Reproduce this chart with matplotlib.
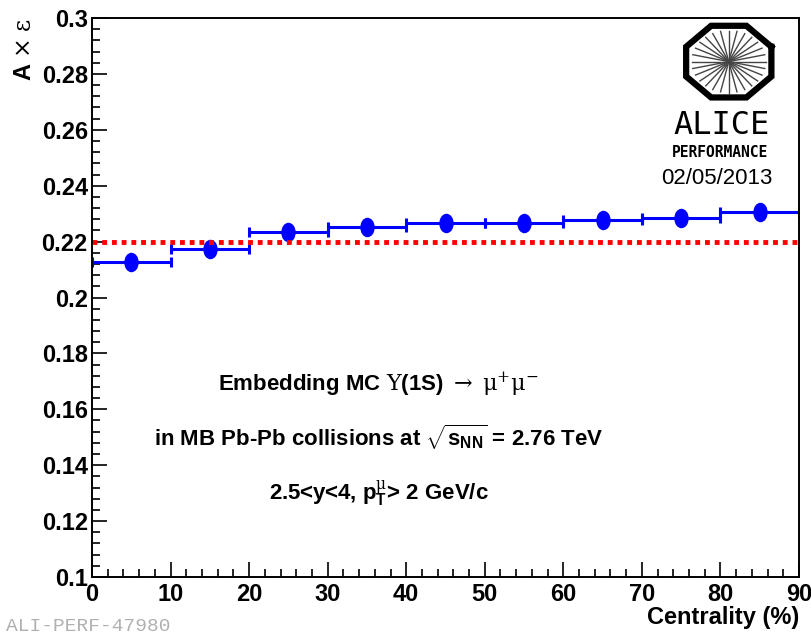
"""Upsilon(1S) acceptance x efficiency vs centrality (ALICE performance style)."""
import numpy as np
import matplotlib
matplotlib.use("Agg")
import matplotlib.pyplot as plt
from matplotlib.path import Path
from matplotlib.transforms import Affine2D
from matplotlib.ticker import MultipleLocator, FuncFormatter

# data
cent_centers = [5, 15, 25, 35, 45, 55, 65, 75, 85]
cent_halfwidth = [5, 5, 5, 5, 5, 5, 5, 5, 5]
acc_eff = [0.2128, 0.2174, 0.2236, 0.2253, 0.2268, 0.2266, 0.2276, 0.2286, 0.2307]
acc_eff_mb = 0.2197

plt.rcParams["font.family"] = ["Liberation Sans", "DejaVu Sans"]
plt.rcParams["mathtext.fontset"] = "custom"
plt.rcParams["mathtext.rm"] = "DejaVu Serif"
plt.rcParams["mathtext.it"] = "DejaVu Serif"
plt.rcParams["mathtext.bf"] = "Liberation Sans:bold"

fig = plt.figure(figsize=(8.12, 6.32), dpi=100)
ax = fig.add_axes([0.1133, 0.087, 0.8707, 0.8845])

# tall ellipse marker like the ROOT canvas
ellipse = Path.unit_circle().transformed(Affine2D().scale(0.72, 1.0))
ax.errorbar(cent_centers, acc_eff, xerr=cent_halfwidth, fmt="none", ecolor="blue",
            elinewidth=2.2, capsize=3.5, capthick=2.2)
ax.plot(cent_centers, acc_eff, ls="none", marker=ellipse, ms=13, color="blue")
ax.axhline(acc_eff_mb, color="red", ls=(0, (1, 1)), lw=3.5)

ax.set_xlim(0, 90)
ax.set_ylim(0.1, 0.3)
ax.xaxis.set_major_locator(MultipleLocator(10))
ax.xaxis.set_minor_locator(MultipleLocator(2))
ax.yaxis.set_major_locator(MultipleLocator(0.02))
ax.yaxis.set_minor_locator(MultipleLocator(0.004))
ax.tick_params(which="both", direction="in", top=False, right=False, width=1.2)
ax.tick_params(which="major", length=11, labelsize=17)
ax.tick_params(which="minor", length=5.5)
ax.tick_params(axis="x", which="major", pad=4)
ax.tick_params(axis="y", which="major", pad=3)
ax.yaxis.set_major_formatter(FuncFormatter(lambda v, p: f"{v:.2f}".rstrip("0")))
for lab in ax.get_xticklabels() + ax.get_yticklabels():
    lab.set_fontweight("bold")
for sp in ax.spines.values():
    sp.set_linewidth(1.4)

ax.set_xlabel("Centrality (%)", fontsize=17, fontweight="bold", loc="right", labelpad=0)
ax.set_ylabel(r"A $\times$ $\varepsilon$", fontsize=17, fontweight="bold", loc="top", labelpad=4)

ax.text(36.5, 0.1688, r"Embedding MC $\mathrm{\Upsilon}$(1S) $\rightarrow$ $\mathrm{\mu^{+}\mu^{-}}$",
        fontsize=16, fontweight="bold", ha="center", va="center")
ax.text(36.5, 0.1499, r"in MB Pb-Pb collisions at $\sqrt{\mathbf{s}_{\mathbf{NN}}}$ = 2.76 TeV",
        fontsize=16, fontweight="bold", ha="center", va="center")
ax.text(36.5, 0.1297, r"2.5<y<4, p$_{\mathbf{T}}^{\mathrm{\mu}}$> 2 GeV/c",
        fontsize=16, fontweight="bold", ha="center", va="center")

# ALICE logo
lax = fig.add_axes([0.835, 0.835, 0.125, 0.135])
lax.set_xlim(-1.1, 1.1)
lax.set_ylim(-1.1, 1.1)
lax.axis("off")
ang = np.deg2rad(22.5 + 45 * np.arange(9))
lax.plot(np.cos(ang), np.sin(ang), color="black", lw=4.5, solid_joinstyle="miter")
for a in np.linspace(0, np.pi, 14, endpoint=False):
    lax.plot([-0.8 * np.cos(a), 0.8 * np.cos(a)], [-0.8 * np.sin(a), 0.8 * np.sin(a)],
             color="#444444", lw=1.0)
fig.text(0.888, 0.801, "ALICE", fontsize=23, family="DejaVu Sans Mono", ha="center", va="center")
fig.text(0.887, 0.759, "PERFORMANCE", fontsize=10.5, family="DejaVu Sans Mono", fontweight="bold",
         ha="center", va="center")
fig.text(0.883, 0.718, "02/05/2013", fontsize=16, family="Liberation Sans", ha="center", va="center")

fig.text(0.008, -0.004, "ALI-PERF-47980", fontsize=14, family="Liberation Mono",
         color="#b0b0b0", ha="left", va="bottom")

fig.savefig("out.png", dpi=100)
